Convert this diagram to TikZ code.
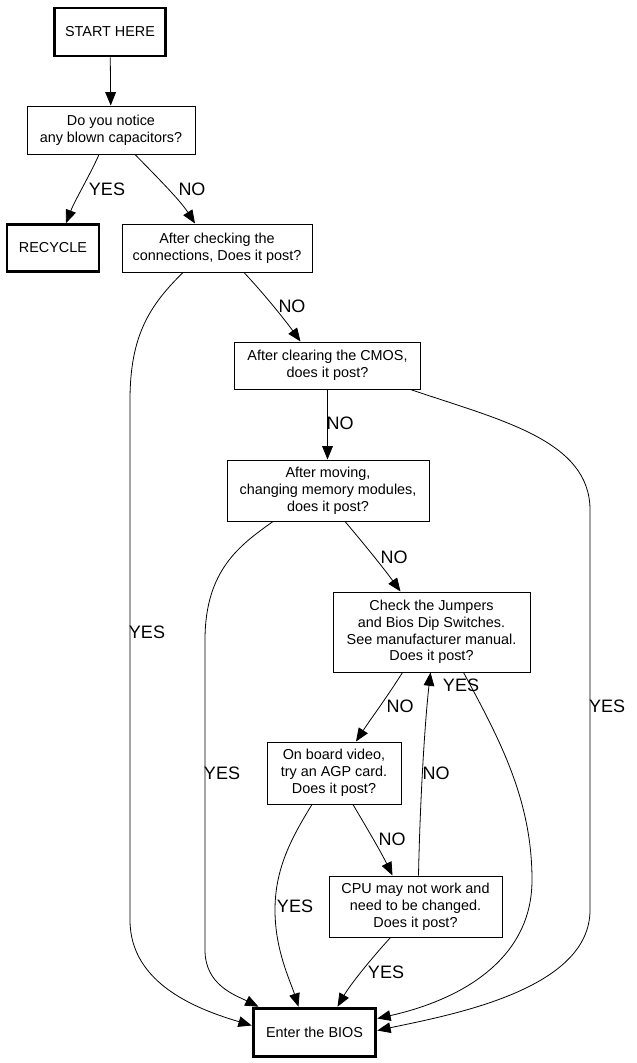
\documentclass[tikz,border=0pt]{standalone}
\usepackage{fontspec}
\setmainfont{Liberation Sans}
\usetikzlibrary{arrows.meta,calc}
\begin{document}
\begin{tikzpicture}[x=0.75pt,y=-0.75pt,
  box/.style={draw,line width=0.75pt,inner sep=0pt,align=center,font=\fontsize{10.8}{12.6}\selectfont},
  term/.style={box,line width=2.2pt},
  lbl/.style={font=\fontsize{13.5}{15}\selectfont,inner sep=0pt},
  arr/.style={line width=0.6pt,-{Triangle[length=10pt,width=8pt]}}]
\useasboundingbox (0,0) rectangle (636,1063);
\node[term,minimum width=83pt,minimum height=36pt] (start) at (110,32) {START HERE};
\node[box,minimum width=126pt,minimum height=36pt] (q1) at (111,130) {Do you notice\\any blown capacitors?};
\node[term,minimum width=69pt,minimum height=35pt] (recycle) at (53,248) {RECYCLE};
\node[box,minimum width=142.5pt,minimum height=36pt] (q2) at (217,248) {After checking the\\connections, Does it post?};
\node[box,minimum width=140pt,minimum height=35.25pt] (q3) at (327.5,365.5) {After clearing the CMOS,\\does it post?};
\node[box,minimum width=151.5pt,minimum height=45.75pt] (q4) at (328,490.5) {After moving,\\changing memory modules,\\does it post?};
\node[box,minimum width=147.75pt,minimum height=60pt] (q5) at (431.5,632) {Check the Jumpers\\and Bios Dip Switches.\\See manufacturer manual.\\Does it post?};
\node[box,minimum width=100.5pt,minimum height=46.5pt] (q6) at (334,773) {On board video,\\try an AGP card.\\Does it post?};
\node[box,minimum width=129.75pt,minimum height=45.75pt] (q7) at (415.5,906.5) {CPU may not work and\\need to be changed.\\Does it post?};
\node[term,minimum width=92pt,minimum height=36.5pt] (bios) at (314.5,1032.5) {Enter the BIOS};

% edges
\draw[arr] (start) -- (q1);
\draw[arr] ($(q1.south)+(-12,0)$) .. controls (90,175) and (75,200) .. ($(recycle.north)+(13,0)$);
\draw[arr] ($(q1.south)+(24,0)$) .. controls (155,175) and (180,200) .. ($(q2.north)+(-22,0)$);
\draw[arr] ($(q2.south)+(27,0)$) .. controls (265,295) and (285,320) .. ($(q3.north)+(-27,0)$);
\draw[arr] ($(q2.south)+(-34,0)$) .. controls (150,305) and (130,335) .. (130,400) -- (130,920) .. controls (130,985) and (200,1010) .. ($(bios.west)+(0,-7)$);
\draw[arr] (q3.south) -- (q3.south |- q4.north);
\draw[arr] ($(q3.south)+(83,0)$) .. controls (500,420) and (590,440) .. (590,510) -- (590,910) .. controls (590,990) and (450,1015) .. ($(bios.east)+(0,-2)$);
\draw[arr] ($(q4.south)+(17,0)$) .. controls (365,545) and (385,570) .. ($(q5.north)+(-31,0)$);
\draw[arr] ($(q4.south)+(-55,0)$) .. controls (240,545) and (205,570) .. (205,640) -- (205,950) .. controls (205,985) and (235,995) .. ($(bios.north)+(-56,0)$);
\draw[arr] ($(q5.south)+(-29,0)$) .. controls (385,700) and (370,720) .. ($(q6.north)+(22,0)$);
\draw[arr] ($(q5.south)+(32,0)$) .. controls (500,740) and (532,800) .. (532,880) .. controls (532,960) and (460,1000) .. ($(bios.east)+(0,-14)$);
\draw[arr] ($(q6.south)+(19,0)$) .. controls (365,825) and (380,850) .. ($(q7.north)+(-23,0)$);
\draw[arr] ($(q6.south)+(-22,0)$) .. controls (290,840) and (275,870) .. (275,910) .. controls (275,950) and (290,980) .. ($(bios.north)+(-16,0)$);
\draw[arr] ($(q7.north)+(3,0)$) .. controls (420,800) and (425,720) .. ($(q5.south)+(-1,0)$);
\draw[arr] ($(q7.south)+(-25,0)$) .. controls (370,960) and (350,985) .. ($(bios.north)+(23,0)$);

% labels
\node[lbl] (l1) at (107,189) {YES};
\node[lbl] (l2) at (192,189) {NO};
\node[lbl] (l3) at (292,306) {NO};
\node[lbl] (l4) at (147,632) {YES};
\node[lbl] (l5) at (340,423) {NO};
\node[lbl] (l6) at (607,706) {YES};
\node[lbl] (l7) at (394,557) {NO};
\node[lbl] (l8) at (222,773) {YES};
\node[lbl] (l9) at (400,706) {NO};
\node[lbl] (l10) at (461,685) {YES};
\node[lbl] (l11) at (392,839) {NO};
\node[lbl] (l12) at (295,906) {YES};
\node[lbl] (l13) at (436,773) {NO};
\node[lbl] (l14) at (386,972) {YES};
\end{tikzpicture}
\end{document}
